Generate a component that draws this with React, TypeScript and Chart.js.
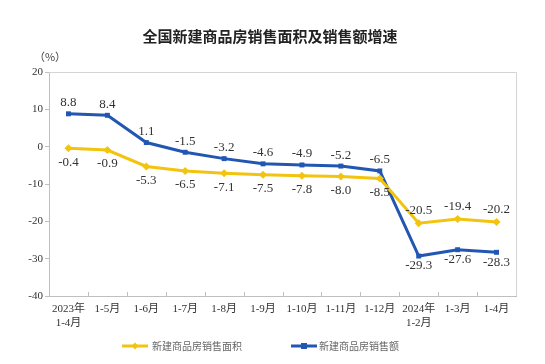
import React, { useEffect, useRef } from "react";
import { Chart, registerables } from "chart.js";

Chart.register(...registerables);

const categories: (string | string[])[] = [
  ["2023年", "1-4月"],
  "1-5月",
  "1-6月",
  "1-7月",
  "1-8月",
  "1-9月",
  "1-10月",
  "1-11月",
  "1-12月",
  ["2024年", "1-2月"],
  "1-3月",
  "1-4月",
];
const areaGrowth = [-0.4, -0.9, -5.3, -6.5, -7.1, -7.5, -7.8, -8.0, -8.5, -20.5, -19.4, -20.2];
const salesGrowth = [8.8, 8.4, 1.1, -1.5, -3.2, -4.6, -4.9, -5.2, -6.5, -29.3, -27.6, -28.3];
const seriesNames = ["新建商品房销售面积", "新建商品房销售额"];
const titleText = "全国新建商品房销售面积及销售额增速";
const unitText = "（%）";
const yMin = -40;
const yMax = 20;
const yStep = 10;

const YELLOW = "#F2C40F";
const BLUE = "#2157B2";
const SERIF = "'Liberation Serif', 'Times New Roman', 'Noto Sans CJK SC', serif";
const CJK = "'Noto Sans CJK SC', sans-serif";

const decorPlugin = {
  id: "decor",
  afterDraw(chart: any) {
    const { ctx, chartArea, scales } = chart;
    const x = scales.x;
    ctx.save();
    // top and right frame
    ctx.strokeStyle = "#d4d4d4";
    ctx.lineWidth = 1;
    ctx.beginPath();
    ctx.moveTo(chartArea.left, chartArea.top + 0.5);
    ctx.lineTo(chartArea.right + 0.5, chartArea.top + 0.5);
    ctx.lineTo(chartArea.right + 0.5, chartArea.bottom);
    ctx.stroke();
    // inward ticks at category boundaries
    ctx.strokeStyle = "#bfbfbf";
    const n = categories.length;
    const w = (chartArea.right - chartArea.left) / n;
    ctx.beginPath();
    for (let i = 1; i < n; i++) {
      const px = Math.round(x.getPixelForValue(i) - w / 2) + 0.5;
      ctx.moveTo(px, chartArea.bottom);
      ctx.lineTo(px, chartArea.bottom - 4);
    }
    ctx.stroke();

    // title
    ctx.fillStyle = "#222";
    ctx.font = `bold 15px ${CJK}`;
    ctx.textAlign = "center";
    ctx.textBaseline = "middle";
    ctx.fillText(titleText, 270, 36);
    // unit
    ctx.font = `11px ${CJK}`;
    ctx.fillStyle = "#444";
    ctx.fillText(unitText, 50, 57);

    // data labels
    ctx.font = `13px ${SERIF}`;
    ctx.fillStyle = "#333";
    chart.data.datasets.forEach((ds: any, di: number) => {
      const meta = chart.getDatasetMeta(di);
      meta.data.forEach((pt: any, i: number) => {
        const v = ds.data[i];
        let dy: number;
        if (di === 0) dy = i < 9 ? 14 : -13;
        else dy = i < 9 ? -11 : 10;
        ctx.fillText(v.toFixed(1), pt.x, pt.y + dy);
      });
    });

    // legend
    const ly = 346;
    const drawItem = (x0: number, x1: number, color: string, shape: string, text: string, tx: number) => {
      ctx.strokeStyle = color;
      ctx.lineWidth = 3;
      ctx.beginPath();
      ctx.moveTo(x0, ly);
      ctx.lineTo(x1, ly);
      ctx.stroke();
      const cx = (x0 + x1) / 2;
      ctx.fillStyle = color;
      ctx.beginPath();
      if (shape === "diamond") {
        ctx.moveTo(cx, ly - 3.5);
        ctx.lineTo(cx + 3.5, ly);
        ctx.lineTo(cx, ly + 3.5);
        ctx.lineTo(cx - 3.5, ly);
        ctx.closePath();
      } else {
        ctx.rect(cx - 3, ly - 3, 6, 6);
      }
      ctx.fill();
      ctx.fillStyle = "#666";
      ctx.font = `10px ${CJK}`;
      ctx.textAlign = "left";
      ctx.fillText(text, tx, ly);
    };
    drawItem(122, 148, YELLOW, "diamond", seriesNames[0], 152);
    drawItem(291, 317, BLUE, "rect", seriesNames[1], 319);
    ctx.restore();
  },
};

export default function App() {
  const ref = useRef<HTMLCanvasElement | null>(null);
  useEffect(() => {
    if (!ref.current) return;
    const chart = new Chart(ref.current, {
      type: "line",
      data: {
        labels: categories,
        datasets: [
          {
            label: seriesNames[0],
            data: areaGrowth,
            borderColor: YELLOW,
            backgroundColor: YELLOW,
            borderWidth: 3,
            pointStyle: "rectRot",
            pointRadius: 4,
            pointBorderWidth: 0,
            tension: 0,
          },
          {
            label: seriesNames[1],
            data: salesGrowth,
            borderColor: BLUE,
            backgroundColor: BLUE,
            borderWidth: 3,
            pointStyle: "rect",
            pointRadius: 3.5,
            pointBorderWidth: 0,
            tension: 0,
          },
        ],
      },
      options: {
        responsive: false,
        animation: false,
        layout: { padding: { left: 0, right: 29, top: 72, bottom: 0 } },
        plugins: {
          legend: { display: false },
          title: { display: false },
          tooltip: { enabled: false },
        },
        scales: {
          x: {
            type: "category",
            offset: true,
            grid: { display: false, drawTicks: false },
            border: { display: true, color: "#bfbfbf", width: 1 },
            ticks: {
              color: "#333",
              font: { family: SERIF, size: 11, lineHeight: 1.2 },
              padding: 7,
              maxRotation: 0,
              autoSkip: false,
            },
            afterFit: (s: any) => {
              s.height = 68;
            },
          },
          y: {
            min: yMin,
            max: yMax,
            grid: {
              display: true,
              drawOnChartArea: false,
              drawTicks: true,
              tickLength: 4,
              color: "#bfbfbf",
            },
            border: { display: true, color: "#bfbfbf", width: 1 },
            ticks: {
              stepSize: yStep,
              color: "#333",
              font: { family: SERIF, size: 11 },
              padding: 2,
            },
            afterFit: (s: any) => {
              s.width = 49;
            },
          },
        },
      },
      plugins: [decorPlugin],
    });
    return () => chart.destroy();
  }, []);
  return (
    <div style={{ position: "fixed", left: 0, top: 0, width: 545, height: 364, background: "#fff" }}>
      <canvas ref={ref} width={545} height={364} />
    </div>
  );
}
